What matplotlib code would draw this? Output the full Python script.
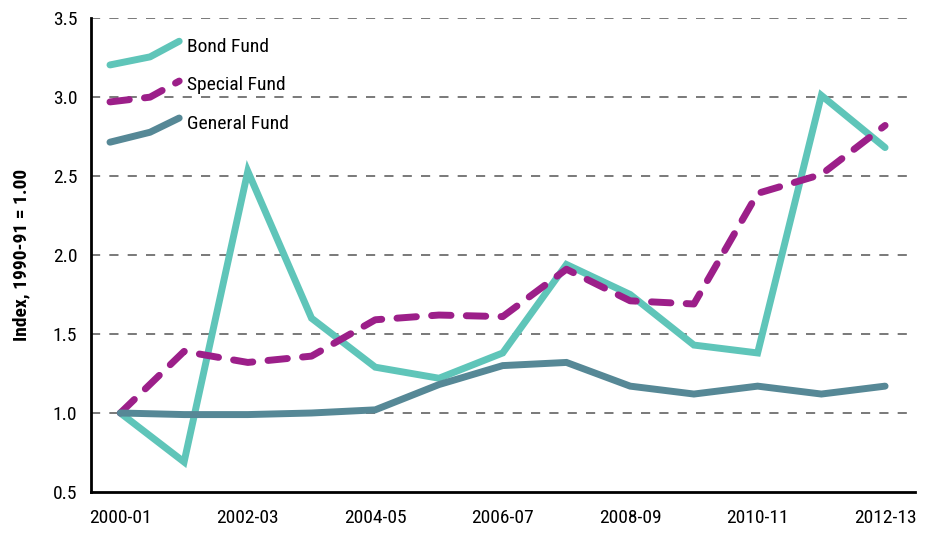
import matplotlib
matplotlib.use("Agg")
import matplotlib.pyplot as plt
from matplotlib import font_manager

# fiscal years
years = ["2000-01", "2001-02", "2002-03", "2003-04", "2004-05", "2005-06", "2006-07",
         "2007-08", "2008-09", "2009-10", "2010-11", "2011-12", "2012-13"]

bond_fund = [1.00, 0.69, 2.53, 1.60, 1.29, 1.22, 1.38, 1.94, 1.75, 1.43, 1.38, 3.01, 2.68]
special_fund = [1.00, 1.39, 1.32, 1.36, 1.59, 1.62, 1.61, 1.91, 1.71, 1.69, 2.39, 2.51, 2.82]
general_fund = [1.00, 0.99, 0.99, 1.00, 1.02, 1.18, 1.30, 1.32, 1.17, 1.12, 1.17, 1.12, 1.17]

y_ticks = [0.5, 1.0, 1.5, 2.0, 2.5, 3.0, 3.5]

# pick a condensed font if we have one, else something narrower than DejaVu
names = {f.name for f in font_manager.fontManager.ttflist}
font = "Liberation Sans"
size = 14
for cand in ["Roboto Condensed", "Open Sans Condensed", "Liberation Sans Narrow",
             "DejaVu Sans Condensed"]:
    if cand in names:
        font = cand
        break
if font == "Liberation Sans":
    size = 13
plt.rcParams["font.family"] = [font, "DejaVu Sans"]

BOND = "#5fc5b9"
SPECIAL = "#9c1f89"
GENERAL = "#568896"
LW = 5.0

fig = plt.figure(figsize=(9.27, 5.36), dpi=100)
ax = fig.add_axes([0.0982, 0.0821, 0.8889, 0.8843])

x = list(range(len(years)))

# gridlines
for y in y_ticks[1:]:
    ax.axhline(y, color="#555555", lw=1.1, ls=(0, (6, 6)), zorder=1)

ax.plot(x, bond_fund, color=BOND, lw=LW, solid_capstyle="round",
        solid_joinstyle="miter", zorder=3)
ax.plot(x, special_fund, color=SPECIAL, lw=LW, dashes=(2.8, 2.2),
        dash_capstyle="round", dash_joinstyle="round", zorder=4)
ax.plot(x, general_fund, color=GENERAL, lw=LW, solid_capstyle="round",
        solid_joinstyle="miter", zorder=5)

ax.set_xlim(-0.46, 12.47)
ax.set_ylim(0.5, 3.5)
ax.set_xticks(x[::2])
ax.set_xticklabels(years[::2])
ax.set_yticks(y_ticks)
ax.set_yticklabels(["%.1f" % v for v in y_ticks])
ax.tick_params(length=0, labelsize=size, pad=12)
ax.tick_params(axis="y", pad=10)
for s in ["top", "right"]:
    ax.spines[s].set_visible(False)
for s in ["left", "bottom"]:
    ax.spines[s].set_linewidth(2)
    ax.spines[s].set_color("black")
ax.set_ylabel("Index, 1990-91 = 1.00", fontsize=size, fontweight="bold", labelpad=16)

# hand-drawn legend in the top-left corner
sample_x = [0.023, 0.0716, 0.107]
legend_items = [
    ("Bond Fund", BOND, [0.901, 0.918, 0.951], 0.939, {}),
    ("Special Fund", SPECIAL, [0.823, 0.833, 0.867], 0.859,
     {"dashes": (2.8, 2.2), "dash_capstyle": "round"}),
    ("General Fund", GENERAL, [0.738, 0.759, 0.789], 0.776, {}),
]
for label, color, ys, ty, kw in legend_items:
    ax.plot(sample_x, ys, color=color, lw=LW, transform=ax.transAxes,
            clip_on=False, solid_capstyle="round", zorder=6, **kw)
    ax.text(0.1165, ty, label, transform=ax.transAxes, fontsize=size,
            va="center", ha="left", zorder=6)

fig.savefig("out.png", dpi=100)
